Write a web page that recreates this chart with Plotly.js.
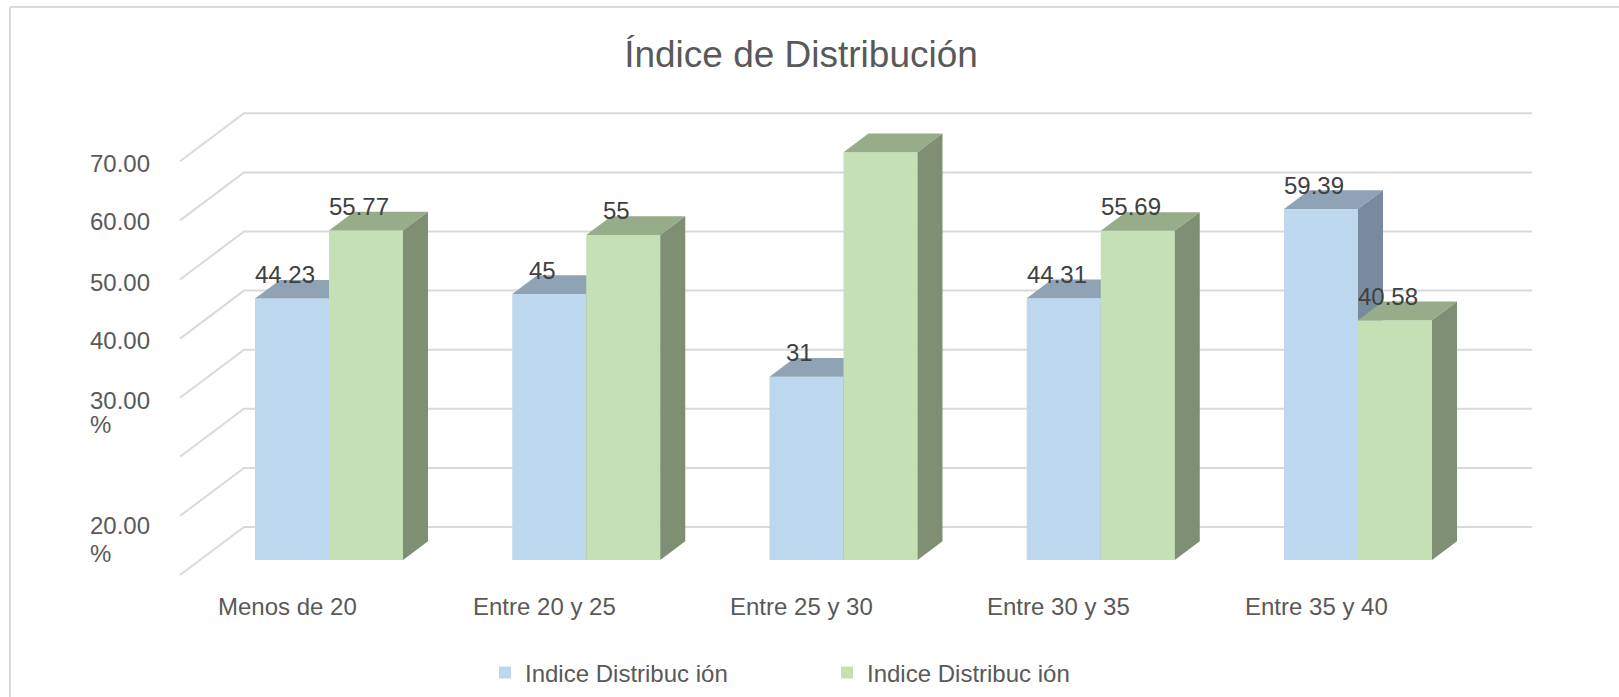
<!DOCTYPE html>
<html>
<head>
<meta charset="utf-8">
<script src="https://cdn.plot.ly/plotly-3.0.1.min.js"></script>
<style>html,body{margin:0;padding:0;background:#fff;}#chart{width:1619px;height:697px;}</style>
</head>
<body>
<div id="chart"></div>
<script>
// ---- data ----
var categories = ["Menos de 20", "Entre 20 y 25", "Entre 25 y 30", "Entre 30 y 35", "Entre 35 y 40"];
var seriesA = [44.23, 45, 31, 44.31, 59.39];
var seriesB = [55.77, 55, 69, 55.69, 40.58];
var labelsA = ["44.23", "45", "31", "44.31", "59.39"];
var labelsB = ["55.77", "55", "", "55.69", "40.58"];
var seriesNames = ["Indice Distribuc ión", "Indice Distribuc ión"];
var gridValues = [0, 10, 20, 30, 40, 50, 60, 70];
var tickLabels = ["70.00", "60.00", "50.00", "40.00", "30.00", "%", "20.00", "%"];

// ---- layout geometry ----
var W = 1619, H = 697;
var mL = 150, mR = 59, mT = 90, mB = 97;
var pxPerCat = 257.25, cat0Px = 329;
var pxPerUnit = 5.91, zeroPx = 560;
var plotW = W - mL - mR, plotH = H - mT - mB;
var xRange = [(mL - cat0Px) / pxPerCat, (W - mR - cat0Px) / pxPerCat];
var yRange = [(zeroPx - (H - mB)) / pxPerUnit, (zeroPx - mT) / pxPerUnit];
function pxX(v){ return (v - cat0Px) / pxPerCat; }   // pixel -> x data
function pxY(v){ return (zeroPx - v) / pxPerUnit; }  // pixel -> y data
var barW = 74 / pxPerCat;
var dX = 25 / pxPerCat, dY = 18.7 / pxPerUnit;
var tickLabelPx = [163, 222, 282, 340, 400, 424, 525, 553];

var colA = {front: "#BDD7EE", top: "#8FA3B5", side: "#788B9D"};
var colB = {front: "#C5E0B4", top: "#97AC89", side: "#7F8F73"};

var idx = categories.map(function(_, i){ return i; });

function faces(vals, left, col, xa, ya){
  var topX = [], topY = [], sideX = [], sideY = [];
  vals.forEach(function(v, i){
    var l = left(i), r = l + barW;
    topX.push(l, l + dX, r + dX, r, l, null);
    topY.push(v, v + dY, v + dY, v, v, null);
    sideX.push(r, r + dX, r + dX, r, r, null);
    sideY.push(0, dY, v + dY, v, 0, null);
  });
  return [
    {type: "scatter", x: topX, y: topY, fill: "toself", fillcolor: col.top, mode: "lines",
     line: {width: 0, color: col.top}, showlegend: false, hoverinfo: "skip", xaxis: xa, yaxis: ya},
    {type: "scatter", x: sideX, y: sideY, fill: "toself", fillcolor: col.side, mode: "lines",
     line: {width: 0, color: col.side}, showlegend: false, hoverinfo: "skip", xaxis: xa, yaxis: ya}
  ];
}

var leftA = function(i){ return i - barW; };
var leftB = function(i){ return i; };

var traces = [];
traces.push({type: "bar", name: seriesNames[0], x: idx.map(function(i){ return i - barW / 2; }), y: seriesA,
  width: barW, marker: {color: colA.front, line: {width: 0}}, hoverinfo: "skip", xaxis: "x", yaxis: "y"});
traces = traces.concat(faces(seriesA, leftA, colA, "x", "y"));
traces.push({type: "bar", name: seriesNames[1], x: idx.map(function(i){ return i + barW / 2; }), y: seriesB,
  width: barW, marker: {color: colB.front, line: {width: 0}}, hoverinfo: "skip", xaxis: "x2", yaxis: "y2"});
traces = traces.concat(faces(seriesB, leftB, colB, "x2", "y2"));

var font = "Liberation Sans, Arial, sans-serif";
var shapes = [];
var xFront = pxX(180), xBack = pxX(244), xEnd = pxX(1532);
var backOff = pxY(527), frontOff = pxY(575);
gridValues.forEach(function(v){
  shapes.push({type: "path", xref: "x", yref: "y", layer: "below",
    path: "M" + xFront + "," + (v + frontOff) + " L" + xBack + "," + (v + backOff) + " L" + xEnd + "," + (v + backOff),
    line: {color: "#D9D9D9", width: 2}});
});
// outer chart border (left and top)
function paperX(px){ return (px - mL) / plotW; }
function paperY(px){ return (H - mB - px) / plotH; }
shapes.push({type: "line", xref: "paper", yref: "paper", x0: paperX(10), x1: paperX(10), y0: paperY(7), y1: paperY(H + 5),
  line: {color: "#D9D9D9", width: 2}});
shapes.push({type: "line", xref: "paper", yref: "paper", x0: paperX(10), x1: paperX(W + 5), y0: paperY(7), y1: paperY(7),
  line: {color: "#D9D9D9", width: 2}});

var annotations = [];
tickLabels.forEach(function(t, k){
  annotations.push({text: t, xref: "paper", yref: "paper", x: paperX(88), y: paperY(tickLabelPx[k]),
    xanchor: "left", yanchor: "middle", showarrow: false, font: {family: font, size: 24, color: "#595959"}});
});
categories.forEach(function(c, i){
  annotations.push({text: c, xref: "x", yref: "paper", x: i, xshift: -42, y: paperY(606),
    xanchor: "center", yanchor: "middle", showarrow: false, font: {family: font, size: 24, color: "#595959"}});
});
function dataLabels(vals, labels, offset){
  vals.forEach(function(v, i){
    if (!labels[i]) return;
    annotations.push({text: labels[i], xref: "x", yref: "y", x: i + offset, y: v, xshift: -7, yshift: 24,
      xanchor: "center", yanchor: "middle", showarrow: false, font: {family: font, size: 24, color: "#404040"}});
  });
}
dataLabels(seriesA, labelsA, -barW / 2);
dataLabels(seriesB, labelsB, barW / 2);

var axisCommon = {showgrid: false, zeroline: false, showticklabels: false, showline: false, ticks: "", fixedrange: true};
var layout = {
  width: W, height: H,
  margin: {l: mL, r: mR, t: mT, b: mB, pad: 0},
  paper_bgcolor: "#FFFFFF", plot_bgcolor: "rgba(0,0,0,0)",
  font: {family: font, color: "#595959"},
  title: {text: "Índice de Distribución", font: {family: font, size: 37, color: "#595959"},
    xref: "container", yref: "container", x: 801 / W, y: 1 - 54 / H, xanchor: "center", yanchor: "middle"},
  xaxis: Object.assign({range: xRange}, axisCommon),
  yaxis: Object.assign({range: yRange}, axisCommon),
  xaxis2: Object.assign({range: xRange, overlaying: "x"}, axisCommon),
  yaxis2: Object.assign({range: yRange, overlaying: "y"}, axisCommon),
  barmode: "overlay",
  showlegend: true,
  legend: {orientation: "h", xref: "container", yref: "container", x: 485 / W, y: 1 - 673 / H,
    xanchor: "left", yanchor: "middle", font: {family: font, size: 24, color: "#595959"},
    entrywidth: 297, entrywidthmode: "pixels", bgcolor: "rgba(0,0,0,0)", borderwidth: 0, traceorder: "normal"},
  shapes: shapes,
  annotations: annotations,
  hovermode: false
};
Plotly.newPlot("chart", traces, layout, {staticPlot: true, displayModeBar: false});
</script>
</body>
</html>
